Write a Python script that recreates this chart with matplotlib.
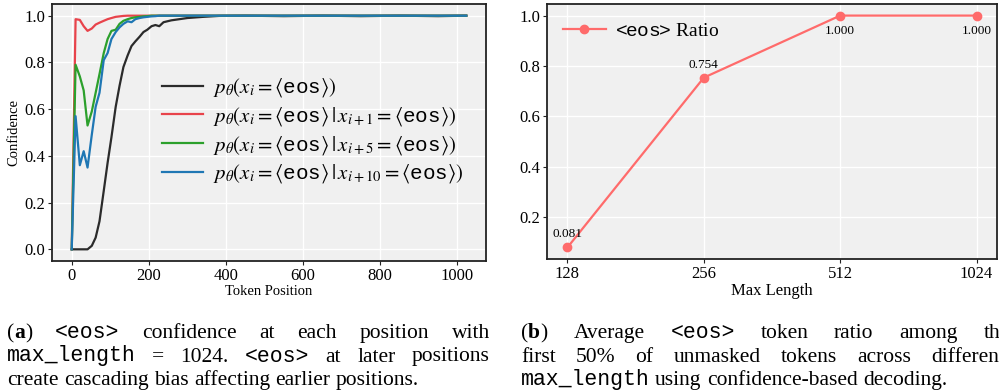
import matplotlib
matplotlib.use('Agg')
import matplotlib.pyplot as plt

plt.rcParams['font.family'] = ['Liberation Serif', 'DejaVu Serif']
plt.rcParams['mathtext.fontset'] = 'custom'
plt.rcParams['mathtext.rm'] = 'STIXGeneral'
plt.rcParams['mathtext.it'] = 'STIXGeneral:italic'
plt.rcParams['mathtext.bf'] = 'STIXGeneral:bold'
plt.rcParams['mathtext.tt'] = 'Liberation Mono'
plt.rcParams['mathtext.fallback'] = 'stix'

# (a) confidence of <eos> by token position
positions = [0, 10, 21, 31, 41, 52, 62, 72, 83, 93, 103, 114, 124, 134, 145, 155,
             165, 176, 186, 196, 207, 217, 227, 238, 258, 279, 300, 341, 382, 450,
             550, 650, 750, 850, 950, 1023]
conf_plain = [0, 0, 0, 0, 0, 0.015, 0.05, 0.12, 0.25, 0.37, 0.48, 0.61, 0.70, 0.78,
              0.83, 0.87, 0.89, 0.91, 0.93, 0.94, 0.955, 0.96, 0.955, 0.972, 0.98,
              0.985, 0.99, 0.995, 0.999, 1.0, 0.998, 1.0, 0.998, 1.0, 0.998, 1.0]
conf_next1 = [0, 0.985, 0.982, 0.955, 0.935, 0.945, 0.962, 0.97, 0.978, 0.985, 0.99,
              0.995, 0.997, 0.999, 1.0, 1.0, 1.0, 1.0, 1.0, 1.0, 1.0, 1.0, 1.0, 1.0,
              1.0, 1.0, 1.0, 1.0, 1.0, 1.0, 1.0, 1.0, 1.0, 1.0, 1.0, 1.0]
conf_next5 = [0, 0.79, 0.74, 0.68, 0.53, 0.59, 0.67, 0.75, 0.84, 0.90, 0.935, 0.94,
              0.965, 0.978, 0.985, 0.99, 0.993, 0.995, 0.997, 0.998, 1.0, 1.0, 1.0,
              1.0, 1.0, 1.0, 1.0, 1.0, 1.0, 1.0, 1.0, 1.0, 1.0, 1.0, 1.0, 1.0]
conf_next10 = [0, 0.57, 0.36, 0.42, 0.35, 0.49, 0.61, 0.67, 0.81, 0.84, 0.90, 0.93,
               0.95, 0.965, 0.976, 0.972, 0.985, 0.99, 0.993, 0.995, 0.997, 0.998,
               1.0, 1.0, 1.0, 1.0, 1.0, 1.0, 1.0, 1.0, 1.0, 1.0, 1.0, 1.0, 1.0, 1.0]
eos = r'\langle\mathtt{eos}\rangle'
labels_a = [r'$p_\theta(x_i=' + eos + r')$',
            r'$p_\theta(x_i=' + eos + r'\,|\,x_{i+1}=' + eos + r')$',
            r'$p_\theta(x_i=' + eos + r'\,|\,x_{i+5}=' + eos + r')$',
            r'$p_\theta(x_i=' + eos + r'\,|\,x_{i+10}=' + eos + r')$']
colors_a = ['#2b2b2b', '#e8434b', '#2ca02c', '#1f77b4']

# (b) <eos> ratio by max length
max_lengths = ['128', '256', '512', '1024']
eos_ratio = [0.081, 0.754, 1.000, 1.000]

W, H = 999, 391
fig = plt.figure(figsize=(W / 100, H / 100), dpi=100)


def style(ax):
    ax.set_facecolor('#f0f0f0')
    ax.grid(True, color='white', linewidth=1.0)
    ax.set_axisbelow(True)
    for s in ax.spines.values():
        s.set_color('#222222')
        s.set_linewidth(1.3)
    ax.tick_params(direction='out', length=3, width=0.8, colors='#222222',
                   labelsize=12, labelcolor='black', pad=2)


ax1 = fig.add_axes([52 / W, 1 - 261 / H, 434 / W, 257 / H])
style(ax1)
for ys, c, lab in zip([conf_plain, conf_next1, conf_next5, conf_next10], colors_a, labels_a):
    ax1.plot(positions, ys, color=c, linewidth=1.6, label=lab)
ax1.set_xticks([0, 200, 400, 600, 800, 1000])
ax1.set_yticks([0.0, 0.2, 0.4, 0.6, 0.8, 1.0])
ax1.set_xlabel('Token Position', fontsize=10.5, labelpad=1)
ax1.set_ylabel('Confidence', fontsize=10.5, labelpad=3)
ax1.legend(loc='center left', bbox_to_anchor=(0.253, 0.506), frameon=False,
           fontsize=15, handlelength=2.0, handletextpad=0.45, labelspacing=0.28,
           borderpad=0, borderaxespad=0)

ax2 = fig.add_axes([547 / W, 1 - 259 / H, 450 / W, 255 / H])
style(ax2)
ax2.plot(max_lengths, eos_ratio, color='#ff6b6b', linewidth=1.6, marker='o',
         markersize=6, label=r'$\!\mathtt{<\!\!eos\!\!>}\!$ Ratio')
for i, v in enumerate(eos_ratio):
    if v < 0.9:
        ax2.annotate(f'{v:.3f}', (i, v), xytext=(0, 5), textcoords='offset points',
                     ha='center', va='bottom', fontsize=9.5)
    else:
        ax2.annotate(f'{v:.3f}', (i, v), xytext=(0, -7), textcoords='offset points',
                     ha='center', va='top', fontsize=9.5)
ax2.set_xlabel('Max Length', fontsize=12, labelpad=1)
ax2.legend(loc='center left', bbox_to_anchor=(0.035, 0.895), frameon=False,
           fontsize=14, handlelength=2.2, handletextpad=0.5, borderpad=0,
           borderaxespad=0)

# captions, justified word by word
CAP = 15.5
FONTS = {'r': dict(family='Liberation Serif'),
         'b': dict(family='Liberation Serif', weight='bold'),
         'm': dict(family='Liberation Mono')}
renderer = fig.canvas.get_renderer()


def caption_line(words, x0, x1, base, justify):
    made = []
    for w in words:
        segs = [(w, 'r')] if isinstance(w, str) else w
        ts = []
        for txt, f in segs:
            t = fig.text(0, 1 - base / H, txt, fontsize=CAP, va='baseline', **FONTS[f])
            ts.append((t, t.get_window_extent(renderer).width))
        made.append(ts)
    widths = [sum(wd for _, wd in ts) for ts in made]
    if justify and len(made) > 1:
        gap = (x1 - x0 - sum(widths)) / (len(made) - 1)
    else:
        gap = CAP * 100 / 72 * 0.25
    x = x0
    for ts, wsum in zip(made, widths):
        xx = x
        for t, wd in ts:
            t.set_x(xx / W)
            xx += wd
        x += wsum + gap


MONO_EOS = [('<eos>', 'm')]
MONO_ML = [('max_length', 'm')]
caption_line([[('(', 'r'), ('a', 'b'), (')', 'r')], MONO_EOS, 'confidence', 'at',
              'each', 'position', 'with'], 7, 490, 338, True)
caption_line([MONO_ML, '=', '1024.', MONO_EOS, 'at', 'later', 'positions'],
             7, 490, 361.5, True)
caption_line('create cascading bias affecting earlier positions.'.split(),
             7, 490, 385, False)
caption_line([[('(', 'r'), ('b', 'b'), (')', 'r')], 'Average', MONO_EOS, 'token',
              'ratio', 'among', 'the'], 521, 1010, 338, True)
caption_line(['first', '50%', 'of', 'unmasked', 'tokens', 'across', 'different'],
             521, 1005, 361.5, True)
caption_line([MONO_ML] + 'using confidence-based decoding.'.split(),
             521, 1005, 385, False)

fig.savefig('out.png', dpi=100)
